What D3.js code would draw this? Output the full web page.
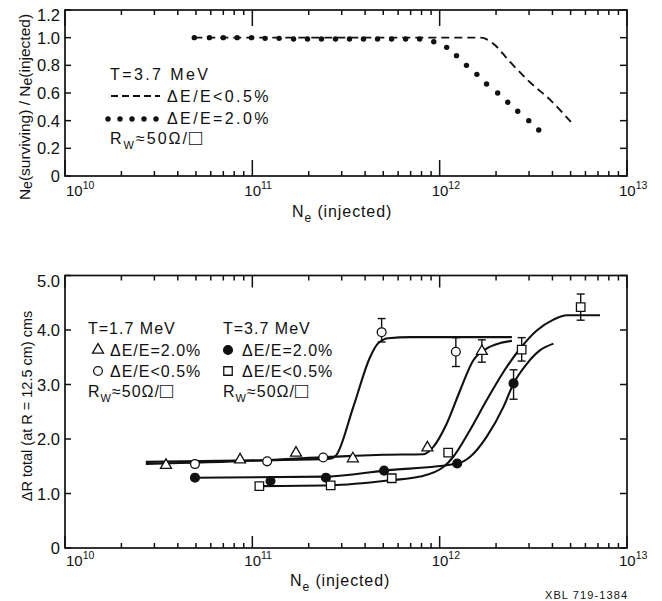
<!DOCTYPE html>
<html>
<head>
<meta charset="utf-8">
<script src="https://cdn.jsdelivr.net/npm/d3@7/dist/d3.min.js"></script>
<style>
body { margin: 0; background: #fff; }
text { font-family: "Liberation Sans", Arial, sans-serif; fill: #111; }
</style>
</head>
<body>
<div id="chart"></div>
<script>
// ---- top panel: survival fraction vs injected electrons (T = 3.7 MeV)
var neDashed   = [4.9e10, 1.66e12, 1.92e12, 2.37e12, 3.02e12, 3.89e12, 5.13e12];
var survDashed = [1.0, 1.0, 0.96, 0.826, 0.68, 0.55, 0.376];

var neDotted   = [4.9e10, 5.9e10, 7.0e10, 8.3e10, 9.9e10, 1.17e11, 1.39e11, 1.66e11, 1.97e11, 2.34e11,
                  2.78e11, 3.30e11, 3.92e11, 4.66e11, 5.54e11, 6.58e11, 7.82e11, 9.3e11, 1.09e12, 1.23e12,
                  1.39e12, 1.58e12, 1.78e12, 2.04e12, 2.31e12, 2.61e12, 2.99e12, 3.38e12];
var survDotted = [1.0, 1.0, 1.0, 1.0, 1.0, 0.995, 0.995, 0.99, 0.99, 0.99,
                  0.99, 0.99, 0.99, 0.99, 0.99, 0.99, 0.99, 0.97, 0.93, 0.87,
                  0.80, 0.735, 0.665, 0.60, 0.533, 0.468, 0.40, 0.333];

var topYTicks = [0, 0.2, 0.4, 0.6, 0.8, 1.0, 1.2];
var topYLabels = ["0", "0.2", "0.4", "0.6", "0.8", "1.0", "1.2"];

// ---- bottom panel: delta R vs injected electrons
// measured points
var neTri   = [3.46e10, 8.6e10, 1.71e11, 3.44e11, 8.6e11, 1.68e12];      // T=1.7, dE/E=2.0%
var drTri   = [1.52, 1.62, 1.745, 1.64, 1.84, 3.61];
var neCirc  = [4.94e10, 1.2e11, 2.39e11, 4.9e11, 1.22e12];              // T=1.7, dE/E<0.5%
var drCirc  = [1.54, 1.59, 1.66, 3.96, 3.60];
var neDot   = [4.94e10, 1.25e11, 2.47e11, 5.05e11, 1.24e12, 2.48e12];    // T=3.7, dE/E=2.0%
var drDot   = [1.29, 1.23, 1.29, 1.42, 1.55, 3.02];
var neSq    = [1.09e11, 2.62e11, 5.55e11, 1.11e12, 2.74e12, 5.66e12];    // T=3.7, dE/E<0.5%
var drSq    = [1.135, 1.15, 1.28, 1.75, 3.64, 4.42];

// error bars [ne, low, high]
var errNe   = [4.9e11, 1.22e12, 1.68e12, 2.48e12, 2.74e12, 5.66e12];
var errLow  = [3.78, 3.33, 3.41, 2.73, 3.43, 4.18];
var errHigh = [4.21, 3.86, 3.82, 3.27, 3.86, 4.66];

// hand drawn fit curves
var neCurveA = [2.7e10, 1.2e11, 2.6e11, 2.8e11, 3.46e11, 4.25e11, 4.65e11, 5.3e11, 7e11, 2.43e12];
var drCurveA = [1.58, 1.61, 1.64, 1.70, 2.59, 3.50, 3.74, 3.85, 3.87, 3.87];
var neCurveB = [2.7e10, 1e11, 3.4e11, 5e11, 8.2e11, 9.25e11, 1.09e12, 1.285e12, 1.51e12, 1.78e12, 2.1e12, 2.43e12];
var drCurveB = [1.54, 1.60, 1.69, 1.71, 1.72, 1.855, 2.28, 2.89, 3.44, 3.66, 3.76, 3.80];
var neCurveC = [4.94e10, 2.5e11, 5.05e11, 1.24e12, 1.45e12, 1.78e12, 2.19e12, 2.48e12, 2.92e12, 3.44e12, 4.05e12];
var drCurveC = [1.29, 1.31, 1.42, 1.55, 1.67, 2.04, 2.59, 3.02, 3.38, 3.63, 3.75];
var neCurveD = [1.09e11, 2.62e11, 5.55e11, 7.85e11, 1.05e12, 1.18e12, 1.45e12, 1.78e12, 2.19e12, 2.69e12, 3.3e12, 4.05e12, 4.78e12, 7.18e12];
var drCurveD = [1.135, 1.15, 1.245, 1.31, 1.49, 1.67, 2.16, 2.71, 3.23, 3.66, 3.99, 4.19, 4.27, 4.27];

var botYTicks = [0, 1, 2, 3, 4, 5];
var botYLabels = ["0", "1.0", "2.0", "3.0", "4.0", "5.0"];

var decadeExp = ["10", "11", "12", "13"];

// ---------------------------------------------------------------
var W = 662, H = 601;
var svg = d3.select("#chart").append("svg")
	.attr("width", W)
	.attr("height", H);

var x = d3.scaleLog().domain([1e10, 1e13]).range([65, 627]);
var yTop = d3.scaleLinear().domain([0, 1.2]).range([176, 10]);
var yBot = d3.scaleLinear().domain([0, 5]).range([548, 275.5]);

var zip = function(a, b) { return a.map(function(v, i) { return [v, b[i]]; }); };

var drawFrame = function(y, yTicks, yLabels, majorLen, labelBase) {
	var g = svg.append("g");
	var x0 = x.range()[0], x1 = x.range()[1];
	var yb = y.range()[0], yt = y.range()[1];
	g.append("rect")
		.attr("x", x0).attr("y", yt)
		.attr("width", x1 - x0).attr("height", yb - yt)
		.attr("fill", "none").attr("stroke", "#111").attr("stroke-width", 1.7);

	// log ticks, inward on bottom and top edges
	x.ticks().forEach(function(t) {
		var isMajor = Math.abs(Math.log10(t) - Math.round(Math.log10(t))) < 1e-9;
		var len = isMajor ? majorLen : 5;
		var px = x(t);
		g.append("line").attr("x1", px).attr("x2", px).attr("y1", yb).attr("y2", yb - len)
			.attr("stroke", "#111").attr("stroke-width", 1.5);
		g.append("line").attr("x1", px).attr("x2", px).attr("y1", yt).attr("y2", yt + len)
			.attr("stroke", "#111").attr("stroke-width", 1.5);
	});

	// y ticks, inward on left and right
	yTicks.forEach(function(t, i) {
		var py = y(t);
		g.append("line").attr("x1", x0).attr("x2", x0 + 6).attr("y1", py).attr("y2", py)
			.attr("stroke", "#111").attr("stroke-width", 1.5);
		g.append("line").attr("x1", x1).attr("x2", x1 - 7).attr("y1", py).attr("y2", py)
			.attr("stroke", "#111").attr("stroke-width", 1.5);
		g.append("text")
			.attr("x", x0 - 5)
			.attr("y", py + 6 + (i === yTicks.length - 1 ? 5 : 0))
			.attr("text-anchor", "end")
			.attr("font-size", 16.5)
			.text(yLabels[i]);
	});

	// decade labels
	decadeExp.forEach(function(e, i) {
		var px = x(Math.pow(10, +e));
		var t = g.append("text")
			.attr("x", px - 8 + (i === 0 ? 9 : 0))
			.attr("y", labelBase)
			.attr("font-size", 15);
		t.append("tspan").text("10");
		t.append("tspan").attr("dy", -7).attr("font-size", 10.5).text(e);
	});
	return g;
};

var neLabel = function(xx, yy) {
	var t = svg.append("text").attr("x", xx).attr("y", yy)
		.attr("font-size", 16).attr("letter-spacing", 0.9);
	t.append("tspan").text("N");
	t.append("tspan").attr("dy", 5).attr("font-size", 12).text("e");
	t.append("tspan").attr("dy", -5).text(" (injected)");
};

var rwLabel = function(xx, yy, ls) {
	var t = svg.append("text").attr("x", xx).attr("y", yy)
		.attr("font-size", 16).attr("letter-spacing", ls);
	t.append("tspan").text("R");
	t.append("tspan").attr("dy", 5).attr("font-size", 11).text("W");
	t.append("tspan").attr("dy", -5).text("\u224850\u03A9/");
	t.append("tspan").attr("font-size", 22).attr("dy", 1).text("\u25A1");
};

// ================= TOP PANEL =================
drawFrame(yTop, topYTicks, topYLabels, 16, 196);

var lineTop = d3.line()
	.x(function(d) { return x(d[0]); })
	.y(function(d) { return yTop(d[1]); })
	.curve(d3.curveMonotoneX);

svg.append("path")
	.datum(zip(neDashed, survDashed))
	.attr("d", lineTop)
	.attr("fill", "none")
	.attr("stroke", "#111")
	.attr("stroke-width", 1.9)
	.attr("stroke-dasharray", "8,5");

svg.append("g").selectAll("circle")
	.data(zip(neDotted, survDotted))
	.enter().append("circle")
	.attr("cx", function(d) { return x(d[0]); })
	.attr("cy", function(d) { return yTop(d[1]); })
	.attr("r", 2.7)
	.attr("fill", "#111");

// legend (top)
svg.append("text").attr("x", 110).attr("y", 80).attr("font-size", 16)
	.attr("letter-spacing", 2.4).text("T=3.7 MeV");
svg.append("line").attr("x1", 111).attr("x2", 160).attr("y1", 96).attr("y2", 96)
	.attr("stroke", "#111").attr("stroke-width", 1.9).attr("stroke-dasharray", "7,4");
svg.append("text").attr("x", 167).attr("y", 102).attr("font-size", 16)
	.attr("letter-spacing", 2.4).text("\u0394E/E<0.5%");
[108, 120, 132, 144, 156].forEach(function(px) {
	svg.append("circle").attr("cx", px).attr("cy", 119).attr("r", 2.7).attr("fill", "#111");
});
svg.append("text").attr("x", 167).attr("y", 124).attr("font-size", 16)
	.attr("letter-spacing", 2.4).text("\u0394E/E=2.0%");
rwLabel(110, 144, 2.0);

neLabel(292, 217);

var yt1 = svg.append("text")
	.attr("transform", "translate(30,107) rotate(-90)")
	.attr("text-anchor", "middle")
	.attr("font-size", 15.5);
yt1.append("tspan").text("N");
yt1.append("tspan").attr("dy", 2).attr("font-size", 14).text("e");
yt1.append("tspan").attr("dy", -2).text("(surviving) / N");
yt1.append("tspan").attr("dy", 2).attr("font-size", 14).text("e");
yt1.append("tspan").attr("dy", -2).text("(injected)");

// ================= BOTTOM PANEL =================
drawFrame(yBot, botYTicks, botYLabels, 12, 566);

var lineBot = d3.line()
	.x(function(d) { return x(d[0]); })
	.y(function(d) { return yBot(d[1]); })
	.curve(d3.curveMonotoneX);

[[neCurveA, drCurveA], [neCurveB, drCurveB], [neCurveC, drCurveC], [neCurveD, drCurveD]].forEach(function(c) {
	svg.append("path")
		.datum(zip(c[0], c[1]))
		.attr("d", lineBot)
		.attr("fill", "none")
		.attr("stroke", "#111")
		.attr("stroke-width", 2.1);
});

// error bars
var gErr = svg.append("g").attr("stroke", "#111").attr("stroke-width", 1.4);
errNe.forEach(function(n, i) {
	var px = x(n);
	gErr.append("line").attr("x1", px).attr("x2", px)
		.attr("y1", yBot(errLow[i])).attr("y2", yBot(errHigh[i]));
	[errLow[i], errHigh[i]].forEach(function(v) {
		gErr.append("line").attr("x1", px - 4).attr("x2", px + 4)
			.attr("y1", yBot(v)).attr("y2", yBot(v));
	});
});

var marker = function(g, kind, px, py) {
	if (kind === "circle" || kind === "dot") {
		g.append("circle").attr("cx", px).attr("cy", py).attr("r", 4.4)
			.attr("fill", kind === "dot" ? "#111" : "#fff")
			.attr("stroke", "#111").attr("stroke-width", 1.3);
	} else {
		var sym = kind === "tri" ? d3.symbolTriangle : d3.symbolSquare;
		var size = kind === "tri" ? 52 : 72;
		g.append("path")
			.attr("d", d3.symbol().type(sym).size(size)())
			.attr("transform", "translate(" + px + "," + py + ")")
			.attr("fill", "#fff").attr("stroke", "#111").attr("stroke-width", 1.3);
	}
};

var gMk = svg.append("g");
[["tri", neTri, drTri], ["circle", neCirc, drCirc], ["dot", neDot, drDot], ["square", neSq, drSq]].forEach(function(s) {
	s[1].forEach(function(n, i) { marker(gMk, s[0], x(n), yBot(s[2][i])); });
});

// legend (bottom)
var legLs = 1.0;
svg.append("text").attr("x", 88).attr("y", 334).attr("font-size", 16).attr("letter-spacing", legLs).text("T=1.7 MeV");
svg.append("text").attr("x", 223).attr("y", 334).attr("font-size", 16).attr("letter-spacing", legLs).text("T=3.7 MeV");
var gLeg = svg.append("g");
marker(gLeg, "tri", 98, 350);
marker(gLeg, "circle", 98, 371);
marker(gLeg, "dot", 228, 350);
marker(gLeg, "square", 228, 371);
svg.append("text").attr("x", 110).attr("y", 356).attr("font-size", 16).attr("letter-spacing", legLs).text("\u0394E/E=2.0%");
svg.append("text").attr("x", 110).attr("y", 377).attr("font-size", 16).attr("letter-spacing", legLs).text("\u0394E/E<0.5%");
svg.append("text").attr("x", 242).attr("y", 356).attr("font-size", 16).attr("letter-spacing", legLs).text("\u0394E/E=2.0%");
svg.append("text").attr("x", 242).attr("y", 377).attr("font-size", 16).attr("letter-spacing", legLs).text("\u0394E/E<0.5%");
rwLabel(88, 397, legLs);
rwLabel(223, 397, legLs);

neLabel(290, 586);

svg.append("text")
	.attr("transform", "translate(32,406) rotate(-90)")
	.attr("text-anchor", "middle")
	.attr("font-size", 14.5)
	.text("\u0394R total (at R = 12.5 cm) cms");

svg.append("text")
	.attr("x", 545).attr("y", 599)
	.attr("font-size", 11).attr("letter-spacing", 1.1)
	.text("XBL 719-1384");
</script>
</body>
</html>
